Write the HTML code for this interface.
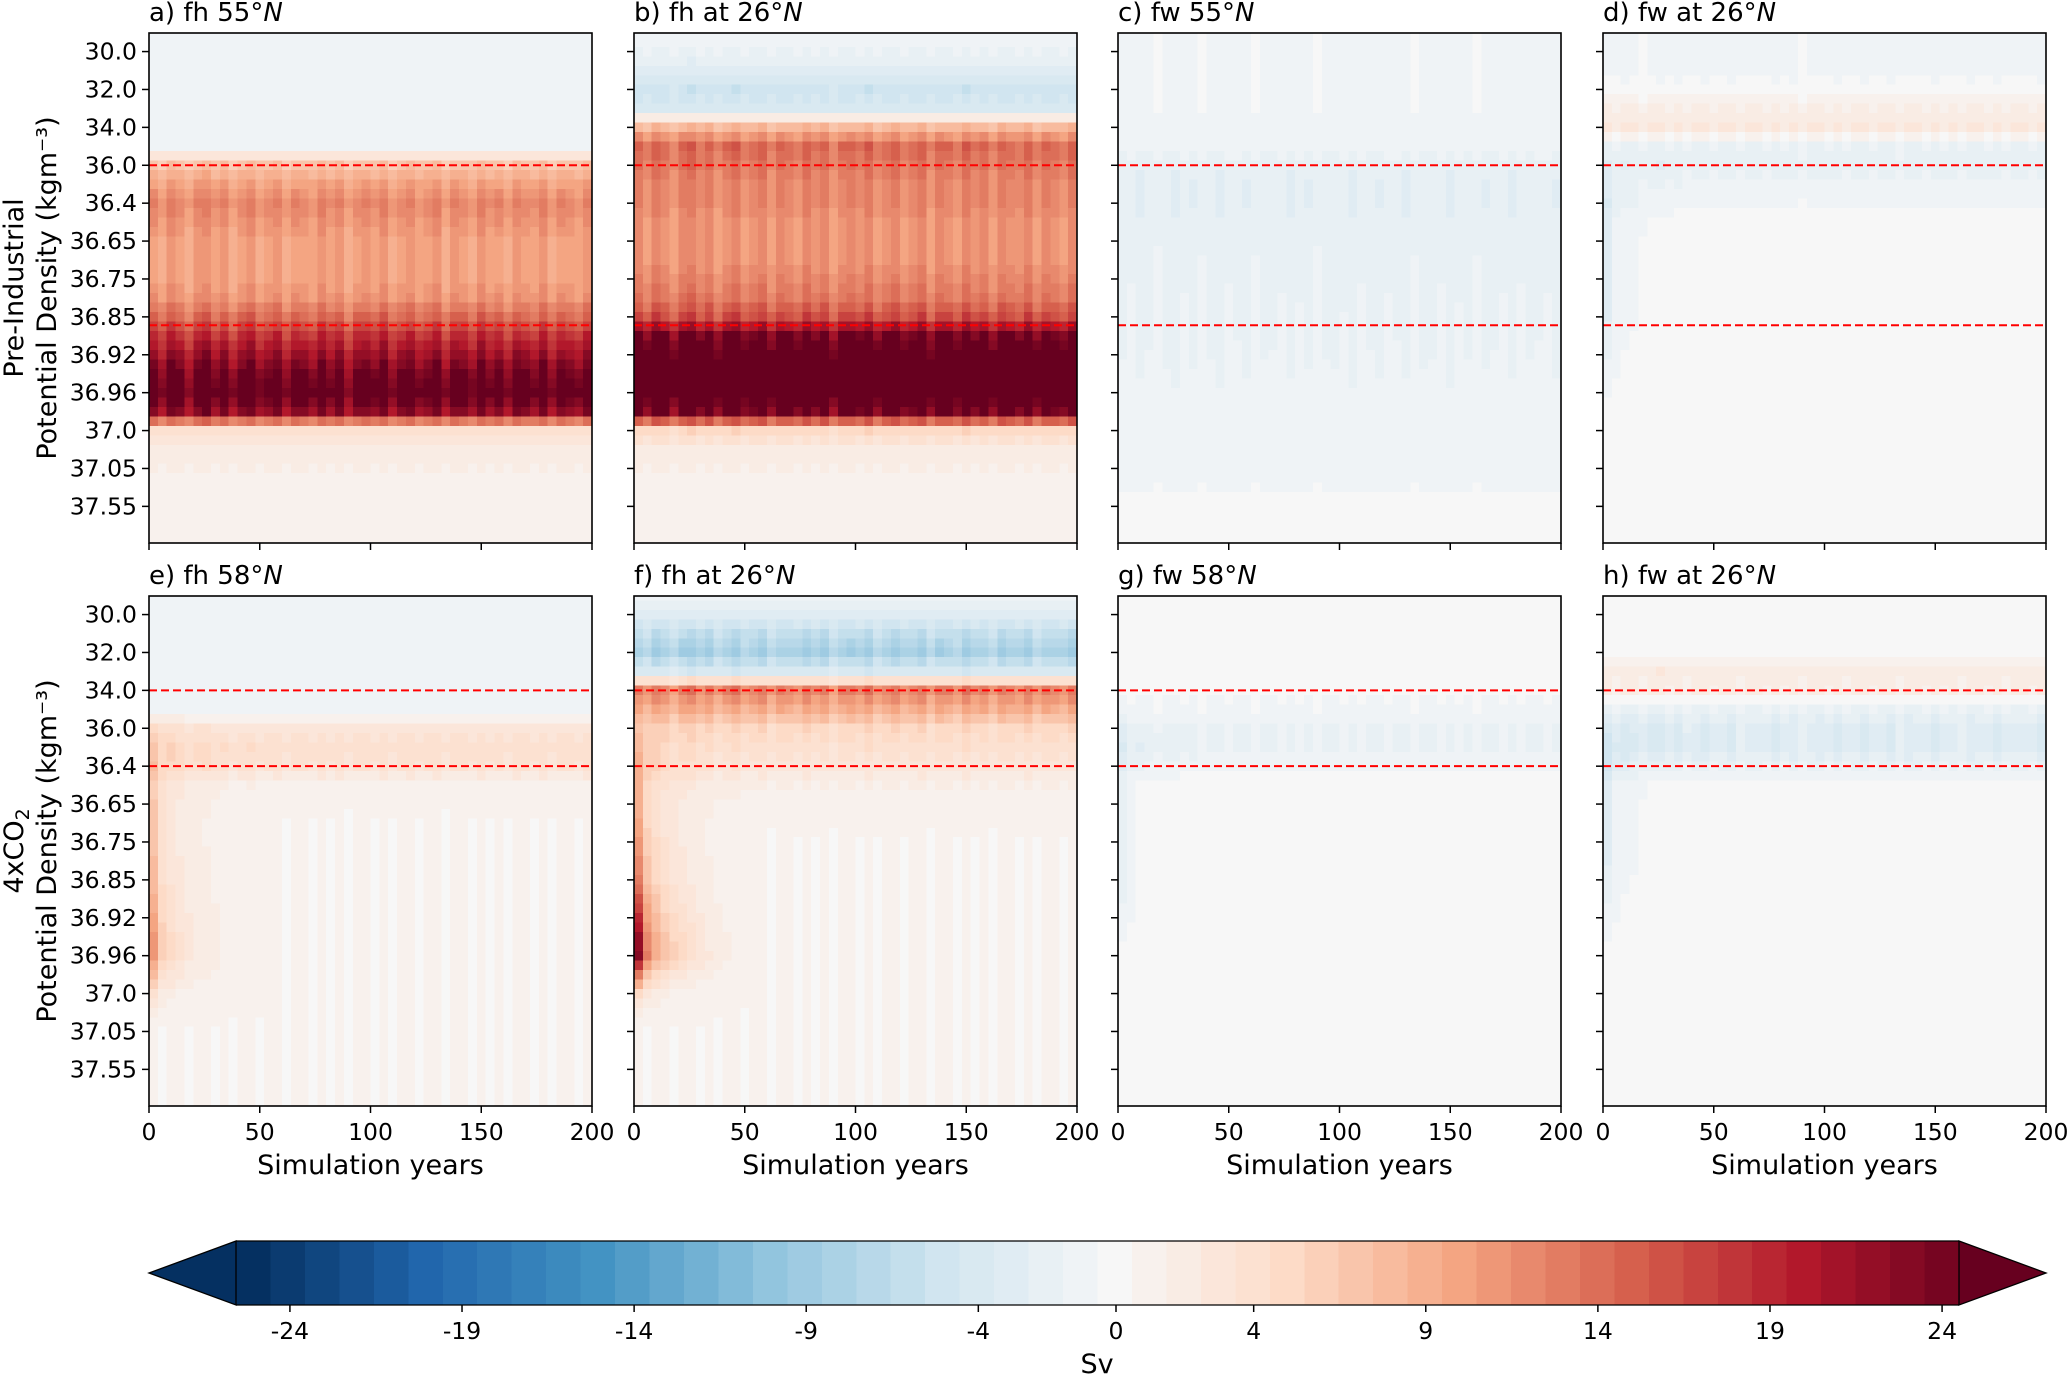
<!DOCTYPE html>
<html><head><meta charset="utf-8"><style>
html,body{margin:0;padding:0;background:#fff;}
svg{display:block;font-family:"DejaVu Sans","Liberation Sans",sans-serif;}
</style></head><body>
<svg id="fig" width="2067" height="1376" viewBox="0 0 2067 1376" xmlns="http://www.w3.org/2000/svg">
<g id="cells" shape-rendering="crispEdges"></g>
<g id="overlay"></g>
<g id="cbar"></g>
</svg>
<script>
// ---- data ----
const yTickLabels = ["30.0","32.0","34.0","36.0","36.4","36.65","36.75","36.85","36.92","36.96","37.0","37.05","37.55"];
const xTickValues = [0,50,100,150,200];
const cbarTickValues = [-24,-19,-14,-9,-4,0,4,9,14,19,24];
// profile positions (density index) -0.5..13 step 0.5
const levelIdx = [-0.5,0,0.5,1,1.5,2,2.5,3,3.5,4,4.5,5,5.5,6,6.5,7,7.5,8,8.5,9,9.5,10,10.5,11,11.5,12,12.5,13];
// year bins (4-year)
const yearBins = [0,4,8,12,16,20,24,28,32,36,40,44,48,52,56,60,64,68,72,76,80,84,88,92,96,100,104,108,112,116,120,124,128,132,136,140,144,148,152,156,160,164,168,172,176,180,184,188,192,196];
const wiggle = [0.4,-0.6,0.8,0.2,-0.9,0.5,1.0,-0.3,0.6,-0.8,0.3,0.9,-0.5,0.1,0.7,-0.7,0.4,0.2,-0.4,0.8,-0.2,0.6,-0.9,0.3,0.5,-0.1,0.9,-0.6,0.2,0.7,-0.4,0.1,0.8,-0.8,0.5,0.3,-0.5,0.9,-0.2,0.4,-0.7,0.6,0.2,-0.3,0.8,-0.6,0.4,0.1,-0.4,0.7];
const decay = [1,0.55,0.4,0.3,0.24,0.19,0.15,0.12,0.09,0.07,0.05,0.04,0.03,0.02,0.01,0,0,0,0,0,0,0,0,0,0,0,0,0,0,0,0,0,0,0,0,0,0,0,0,0,0,0,0,0,0,0,0,0,0,0];
// late/steady profiles (Sv) per panel
const profA = [-0.6,-0.6,-0.6,-0.7,-0.7,-0.8,-1,7,10,12,11,10,10,10,11,14,18,21,24,26,22,4,2,1.5,1,0.8,0.8,0.8];
const profB = [-1,-1.5,-3,-5,-4,8,14,13,12,12,11,11,11,12,13,16,24,27,28,28,24,5,2,1.5,1,0.8,0.8,0.8];
const profC = [-0.6,-0.6,-0.6,-0.6,-0.6,-0.7,-0.9,-2,-2.2,-2.2,-2,-2,-1.8,-1.8,-1.6,-1.5,-1.5,-1.4,-1.3,-1.2,-1.2,-1.1,-1,-0.8,-0.6,0.3,0.3,0.3];
const profD = [-0.6,-0.6,-0.6,-0.3,1.5,2.5,-1.5,-2,-1.2,-0.6,0.2,0.3,0.3,0.3,0.3,0.3,0.3,0.3,0.3,0.3,0.3,0.3,0.3,0.3,0.3,0.3,0.3,0.3];
const profE = [-0.6,-0.6,-0.6,-0.7,-1,-1,-0.6,3,4,3.5,1.2,0.6,0.5,0.5,0.5,0.5,0.5,0.5,0.5,0.5,0.5,0.5,0.5,0.5,0.5,0.5,0.5,0.5];
const profF = [-1,-3,-6,-8,-4,12,9,5,4,3,1.5,0.8,0.6,0.5,0.5,0.5,0.5,0.5,0.5,0.5,0.5,0.5,0.5,0.5,0.5,0.5,0.5,0.5];
const profG = [-0.4,-0.4,-0.4,-0.4,-0.4,-0.4,-0.6,-1.5,-1.5,-0.8,0.3,0.3,0.3,0.3,0.3,0.3,0.3,0.3,0.3,0.3,0.3,0.3,0.3,0.3,0.3,0.3,0.3,0.3];
const profH = [0,0,0,0,2,1.5,-1.5,-3,-3,-1.5,0.2,0.3,0.3,0.3,0.3,0.3,0.3,0.3,0.3,0.3,0.3,0.3,0.3,0.3,0.3,0.3,0.3,0.3];
// early transient profiles (added with decay)
const earlyZero = [0,0,0,0,0,0,0,0,0,0,0,0,0,0,0,0,0,0,0,0,0,0,0,0,0,0,0,0];
const earlyD = [0,0,0,0,0,0,0,-1,-2,-3,-3,-3,-3,-3,-3,-3,-2.5,-2,-1.5,-1,-0.5,0,0,0,0,0,0,0];
const earlyE = [0,0,0,0,0,0,0,2,3,4,5,6,6,6,7,7,8,9,10,10,7,3,1,0,0,0,0,0];
const earlyF = [0,0,0,0,0,0,0,2,4,6,7,8,9,10,11,12,15,18,21,22,12,4,1,0,0,0,0,0];
const earlyG = [0,0,0,0,0,0,0,-1,-2,-2,-2,-2,-2,-2,-2,-2,-2,-1.5,-1,-0.5,0,0,0,0,0,0,0,0];
const earlyH = [0,0,0,0,0,0,0,-1,-2,-3,-3,-3,-3,-3,-3,-2.5,-2,-1.5,-1,-0.5,0,0,0,0,0,0,0,0];
const wiggleAmp = [0.12,0.12,0.25,0.2,0.12,0.15,0.25,0.25];

const panels = [
 {t:"a) fh 55°",n:"panel-a",col:0,row:0,p:profA,e:earlyZero,lines:[3,7.22]},
 {t:"b) fh at 26°",n:"panel-b",col:1,row:0,p:profB,e:earlyZero,lines:[3,7.22]},
 {t:"c) fw 55°",n:"panel-c",col:2,row:0,p:profC,e:earlyZero,lines:[3,7.22]},
 {t:"d) fw at 26°",n:"panel-d",col:3,row:0,p:profD,e:earlyD,lines:[3,7.22]},
 {t:"e) fh 58°",n:"panel-e",col:0,row:1,p:profE,e:earlyE,lines:[2,4]},
 {t:"f) fh at 26°",n:"panel-f",col:1,row:1,p:profF,e:earlyF,lines:[2,4]},
 {t:"g) fw 58°",n:"panel-g",col:2,row:1,p:profG,e:earlyG,lines:[2,4]},
 {t:"h) fw at 26°",n:"panel-h",col:3,row:1,p:profH,e:earlyH,lines:[2,4]}
];
// ---- layout ----
const NS="http://www.w3.org/2000/svg";
const colX=[149,634,1118,1603], rowY=[33,596], W=443, H=510, PX=37.9;
function mk(tag,attrs,parent){const e=document.createElementNS(NS,tag);for(const k in attrs)e.setAttribute(k,attrs[k]);parent.appendChild(e);return e;}
const stops=[[5,48,97],[33,102,172],[67,147,195],[146,197,222],[209,229,240],[247,247,247],[253,219,199],[244,165,130],[214,96,77],[178,24,43],[103,0,31]];
function color(v){
  let q=Math.round(v); q=Math.max(-25,Math.min(25,q));
  let t=(q+25)/50*10; let i=Math.min(9,Math.floor(t)), f=t-i;
  const a=stops[i],b=stops[i+1];
  return "rgb("+[0,1,2].map(k=>Math.round(a[k]+(b[k]-a[k])*f)).join(",")+")";
}
// linear lookup in a profile array at a density index
function sample(arr,idx){
  let f=(idx-levelIdx[0])/0.5; f=Math.max(0,Math.min(levelIdx.length-1,f));
  const i=Math.min(levelIdx.length-2,Math.floor(f)), r=f-i;
  return arr[i]*(1-r)+arr[i+1]*r;
}
const cells=document.getElementById('cells'), ov=document.getElementById('overlay'), cb=document.getElementById('cbar');
panels.forEach((P,pi)=>{
  const x0=colX[P.col], y0=rowY[P.row];
  const xs=yr=>x0+yr/200*W, ys=idx=>y0+(idx+0.49)*PX;
  const g=mk('g',{},cells);
  
  
  yearBins.forEach((yr,ti)=>{
    const xa=xs(yr), xb=xs(Math.min(200,yr+4));
    for(let li=-0.5; li<13.01; li+=0.25){
      const v=sample(P.p,li)*(1+wiggleAmp[pi]*wiggle[ti])+sample(P.e,li)*decay[ti];
      const ya=Math.max(y0,ys(li-0.125)), yb=Math.min(y0+H,ys(li+0.125));
      if(yb<=ya) continue;
      const r=mk('rect',{x:xa.toFixed(2),y:ya.toFixed(2),width:(xb-xa+0.6).toFixed(2),height:(yb-ya+0.6).toFixed(2),fill:color(v)},g);
      
      
    }
  });
  P.lines.forEach(li=>{
    const l=mk('line',{x1:x0,x2:x0+W,y1:ys(li),y2:ys(li),stroke:'#ff0000','stroke-width':2,'stroke-dasharray':'8,4'},ov);
    
    
  });
  const fr=mk('rect',{x:x0,y:y0,width:W,height:H,fill:'none',stroke:'#000','stroke-width':1.6},ov);
  
  
  yTickLabels.forEach((lab,i)=>{
    mk('line',{x1:x0-7,x2:x0,y1:ys(i),y2:ys(i),stroke:'#000','stroke-width':1.5},ov);
    if(P.col===0){const t=mk('text',{x:x0-12,y:ys(i)+8,'text-anchor':'end','font-size':23.5,fill:'#000'},ov);t.textContent=lab;
      
      }
  });
  xTickValues.forEach(v=>{
    mk('line',{x1:xs(v),x2:xs(v),y1:y0+H,y2:y0+H+7,stroke:'#000','stroke-width':1.5},ov);
    if(P.row===1){const t=mk('text',{x:xs(v),y:y0+H+34,'text-anchor':'middle','font-size':23.5,fill:'#000'},ov);t.textContent=v;
      
      }
  });
  const tt=mk('text',{x:x0,y:y0-12,'font-size':26,fill:'#000'},ov);
  
  
  tt.appendChild(document.createTextNode(P.t));
  const it=mk('tspan',{'font-style':'italic'},tt); it.textContent='N';
  if(P.row===1){const xl=mk('text',{x:x0+W/2,y:y0+H+68,'text-anchor':'middle','font-size':27,fill:'#000'},ov);xl.textContent='Simulation years';
    
    }
});
[[0,'Pre-Industrial'],[1,'4xCO']].forEach(([r,lab])=>{
  const cy=rowY[r]+H/2;
  const t1=mk('text',{x:0,y:0,transform:`translate(23,${cy}) rotate(-90)`,'text-anchor':'middle','font-size':27,fill:'#000'},ov);
  
  
  t1.appendChild(document.createTextNode(lab));
  if(r===1){const s=mk('tspan',{'font-size':19,dy:6},t1);s.textContent='2';}
  const t2=mk('text',{x:0,y:0,transform:`translate(56,${cy}) rotate(-90)`,'text-anchor':'middle','font-size':27,fill:'#000'},ov);
  t2.textContent='Potential Density (kgm⁻³)';
  
  
});
// colorbar
const cbL=236, cbR=1959, cbT=1241, cbB=1305, cbMid=(cbT+cbB)/2;
const cx=v=>1116+v*34.42;
for(let k=0;k<50;k++){
  const xa=cbL+k*(cbR-cbL)/50, xb=cbL+(k+1)*(cbR-cbL)/50;
  const r=mk('rect',{x:xa.toFixed(2),y:cbT,width:(xb-xa+0.6).toFixed(2),height:cbB-cbT,fill:color(-25+k),'shape-rendering':'crispEdges'},cb);
  
  
}
const lt=mk('polygon',{points:`${cbL},${cbT} 149,${cbMid} ${cbL},${cbB}`,fill:color(-25),stroke:'#000','stroke-width':1.3},cb);


const rt=mk('polygon',{points:`${cbR},${cbT} 2046,${cbMid} ${cbR},${cbB}`,fill:color(25),stroke:'#000','stroke-width':1.3},cb);


mk('line',{x1:cbL,x2:cbR,y1:cbT,y2:cbT,stroke:'#000','stroke-width':1.3},cb);
mk('line',{x1:cbL,x2:cbR,y1:cbB,y2:cbB,stroke:'#000','stroke-width':1.3},cb);
cbarTickValues.forEach(v=>{
  mk('line',{x1:cx(v),x2:cx(v),y1:cbB,y2:cbB+7,stroke:'#000','stroke-width':1.5},cb);
  const t=mk('text',{x:cx(v),y:cbB+34,'text-anchor':'middle','font-size':23.5,fill:'#000'},cb);t.textContent=v;
  
  
});
const sv=mk('text',{x:1097,y:1373,'text-anchor':'middle','font-size':27,fill:'#000'},cb);sv.textContent='Sv';


</script>
</body></html>
